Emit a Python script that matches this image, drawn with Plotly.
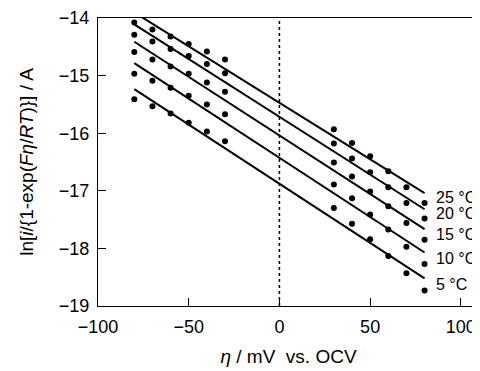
import numpy as np
import plotly.graph_objects as go

# overpotential eta / mV vs. OCV
eta = [-80, -70, -60, -50, -40, -30, 30, 40, 50, 60, 70, 80]

temps = ["25 °C", "20 °C", "15 °C", "10 °C", "5 °C"]
t25 = [-14.08, -14.20, -14.32, -14.45, -14.58, -14.72, -15.93, -16.17, -16.40, -16.66, -16.94, -17.21]
t20 = [-14.29, -14.41, -14.54, -14.66, -14.80, -14.96, -16.18, -16.44, -16.68, -16.94, -17.21, -17.48]
t15 = [-14.59, -14.72, -14.84, -14.97, -15.12, -15.28, -16.51, -16.75, -17.01, -17.27, -17.56, -17.85]
t10 = [-14.97, -15.09, -15.21, -15.35, -15.50, -15.67, -16.89, -17.13, -17.41, -17.67, -17.97, -18.27]
t5 = [-15.41, -15.53, -15.66, -15.82, -15.97, -16.14, -17.30, -17.57, -17.84, -18.13, -18.43, -18.73]
series = [t25, t20, t15, t10, t5]

xticks = [-100, -50, 0, 50, 100]
yticks = [-19, -18, -17, -16, -15, -14]

FONT = "Liberation Sans, Arial, sans-serif"

fig = go.Figure()
x_arr = np.array(eta, dtype=float)
annotations = []
for name, vals in zip(temps, series):
    y_arr = np.array(vals)
    slope, icpt = np.polyfit(x_arr, y_arr, 1)
    xl = np.array([x_arr.min(), x_arr.max()])
    fig.add_trace(go.Scatter(x=xl, y=slope * xl + icpt, mode="lines",
                             line=dict(color="black", width=2), showlegend=False,
                             hoverinfo="skip"))
    fig.add_trace(go.Scatter(x=eta, y=vals, mode="markers", name=name,
                             marker=dict(color="black", size=6), showlegend=False))
    y_end = slope * x_arr.max() + icpt
    annotations.append(dict(x=x_arr.max() + 5, y=(y_end + vals[-1]) / 2, text=name,
                            showarrow=False, xanchor="left", yanchor="middle",
                            font=dict(size=16, color="black", family=FONT)))

fig.add_vline(x=0, line=dict(color="black", width=1.5, dash="dot"))

# page body has an 8px default margin, so the figure is sized to fit the 480x371 view
fig.update_layout(
    width=472, height=363,
    margin=dict(l=90, r=1, t=10, b=65),
    paper_bgcolor="white", plot_bgcolor="white",
    font=dict(family=FONT, color="black", size=18),
    annotations=annotations,
    xaxis=dict(range=[-100, 110], tickvals=xticks, ticks="inside", ticklen=8,
               tickcolor="black", showline=True, mirror=True, linecolor="black",
               linewidth=1.2, showgrid=False, zeroline=False, automargin=False,
               tickfont=dict(size=18), ticklabelstandoff=4,
               title=dict(text="<i>η</i> / mV  vs. OCV", font=dict(size=19), standoff=13)),
    yaxis=dict(range=[-19, -14], tickvals=yticks, ticks="inside", ticklen=8,
               tickcolor="black", showline=True, mirror=True, linecolor="black",
               linewidth=1.2, showgrid=False, zeroline=False, automargin=False,
               tickfont=dict(size=18), ticklabelstandoff=4,
               title=dict(text="ln[<i>i</i>/{1-exp(<i>Fη</i>/<i>RT</i>)}] / A",
                          font=dict(size=19), standoff=20)),
)

fig.write_html("out.html")
